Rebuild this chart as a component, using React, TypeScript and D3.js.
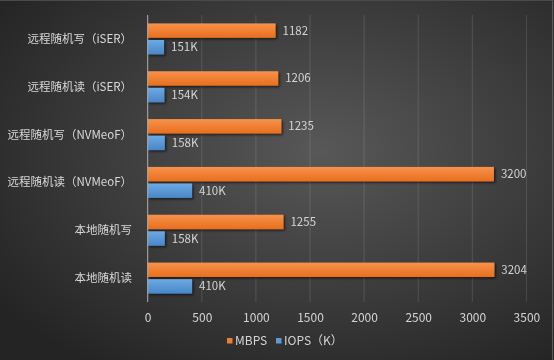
import React, { useEffect, useRef } from "react";
import * as d3 from "d3";

const categories = [
  "远程随机写（iSER）",
  "远程随机读（iSER）",
  "远程随机写（NVMeoF）",
  "远程随机读（NVMeoF）",
  "本地随机写",
  "本地随机读",
];
const mbps = [1182, 1206, 1235, 3200, 1255, 3204];
const iops = [151, 154, 158, 410, 158, 410];
const seriesNames = ["MBPS", "IOPS（K）"];
const xTicks = [0, 500, 1000, 1500, 2000, 2500, 3000, 3500];

const W = 554;
const H = 360;
const font = "'Noto Sans CJK SC', 'Noto Sans', sans-serif";

export default function App() {
  const ref = useRef<SVGSVGElement>(null);

  useEffect(() => {
    const svg = d3.select(ref.current);
    svg.selectAll("*").remove();

    const defs = svg.append("defs");
    const bg = defs
      .append("radialGradient")
      .attr("id", "bg")
      .attr("cx", "58%")
      .attr("cy", "42%")
      .attr("r", "72%");
    bg.append("stop").attr("offset", "0%").attr("stop-color", "#585858");
    bg.append("stop").attr("offset", "100%").attr("stop-color", "#242424");

    const og = defs.append("linearGradient").attr("id", "og").attr("x1", 0).attr("x2", 0).attr("y1", 0).attr("y2", 1);
    og.append("stop").attr("offset", "0%").attr("stop-color", "#F7924B");
    og.append("stop").attr("offset", "100%").attr("stop-color", "#E86F1E");
    const bgr = defs.append("linearGradient").attr("id", "bgr").attr("x1", 0).attr("x2", 0).attr("y1", 0).attr("y2", 1);
    bgr.append("stop").attr("offset", "0%").attr("stop-color", "#6CAAE4");
    bgr.append("stop").attr("offset", "100%").attr("stop-color", "#4986C6");

    const sh = defs.append("filter").attr("id", "sh").attr("x", "-10%").attr("y", "-30%").attr("width", "130%").attr("height", "180%");
    sh.append("feDropShadow")
      .attr("dx", 1.5)
      .attr("dy", 1.5)
      .attr("stdDeviation", 1.2)
      .attr("flood-color", "#000")
      .attr("flood-opacity", 0.6);

    svg.append("rect").attr("width", W).attr("height", H).attr("fill", "url(#bg)");
    svg.append("line").attr("x1", 552.5).attr("x2", 552.5).attr("y1", 0).attr("y2", H).attr("stroke", "#5a5a5a");
    svg.append("line").attr("x1", 0).attr("x2", W).attr("y1", 0.5).attr("y2", 0.5).attr("stroke", "#4a4a4a");

    const x = d3.scaleLinear().domain([0, 3500]).range([147.7, 526.4]);
    const y = d3.scaleBand<string>().domain(categories).range([15, 302]);
    const sub = d3.scaleBand<string>().domain(seriesNames).range([-15.5, 15.5]).paddingInner(0.13);

    // gridlines
    svg
      .append("g")
      .selectAll("line")
      .data(xTicks.slice(1))
      .join("line")
      .attr("x1", (d) => x(d))
      .attr("x2", (d) => x(d))
      .attr("y1", 15)
      .attr("y2", 302)
      .attr("stroke", "rgba(255,255,255,0.13)")
      .attr("stroke-width", 1);

    const colors = ["url(#og)", "url(#bgr)"];
    const series = [mbps, iops];
    const fmt = [(v: number) => String(v), (v: number) => v + "K"];

    series.forEach((vals, si) => {
      const g = svg.append("g");
      g.selectAll("rect")
        .data(vals)
        .join("rect")
        .attr("x", x(0))
        .attr("y", (_, i) => y(categories[i])! + y.bandwidth() / 2 + sub(seriesNames[si])!)
        .attr("width", (d) => x(d) - x(0))
        .attr("height", sub.bandwidth())
        .attr("fill", colors[si])
        .attr("filter", "url(#sh)");
      g.selectAll("text")
        .data(vals)
        .join("text")
        .attr("x", (d) => x(d) + 7)
        .attr("y", (_, i) => y(categories[i])! + y.bandwidth() / 2 + sub(seriesNames[si])! + sub.bandwidth() / 2)
        .attr("dy", "0.35em")
        .attr("fill", "#d4d4d4")
        .style("font-size", "11.5px")
        .style("font-family", font)
        .text((d) => fmt[si](d));
    });

    // axis line
    svg.append("line").attr("x1", x(0)).attr("x2", x(0)).attr("y1", 15).attr("y2", 302).attr("stroke", "#b0b0b0");

    // category labels
    svg
      .append("g")
      .selectAll("text")
      .data(categories)
      .join("text")
      .attr("x", 132)
      .attr("y", (d) => y(d)! + y.bandwidth() / 2)
      .attr("dy", "0.35em")
      .attr("text-anchor", "end")
      .attr("fill", "#d9d9d9")
      .style("font-size", "11.5px")
      .style("font-family", font)
      .text((d) => d);

    // x axis
    const ax = svg
      .append("g")
      .attr("transform", "translate(0,313)")
      .call(d3.axisBottom(x).tickValues(xTicks).tickSize(0).tickPadding(0).tickFormat(d3.format("d")));
    ax.select(".domain").remove();
    ax.selectAll("text")
      .attr("fill", "#d4d4d4")
      .style("font-size", "12px")
      .style("font-family", font);

    // legend
    const leg = svg.append("g").attr("transform", "translate(0,341)");
    const lx = [227, 276];
    seriesNames.forEach((n, i) => {
      leg.append("rect").attr("x", lx[i]).attr("y", -3).attr("width", 5.5).attr("height", 5.5).attr("fill", i === 0 ? "#ED7D31" : "#5B9BD5");
      leg
        .append("text")
        .attr("x", lx[i] + 8)
        .attr("y", 0)
        .attr("dy", "0.35em")
        .attr("fill", "#d4d4d4")
        .style("font-size", "12px")
        .style("font-family", font)
        .text(n);
    });
  }, []);

  return (
    <div style={{ position: "fixed", left: 0, top: 0 }}>
      <svg ref={ref} width={W} height={H} style={{ display: "block" }} />
    </div>
  );
}
